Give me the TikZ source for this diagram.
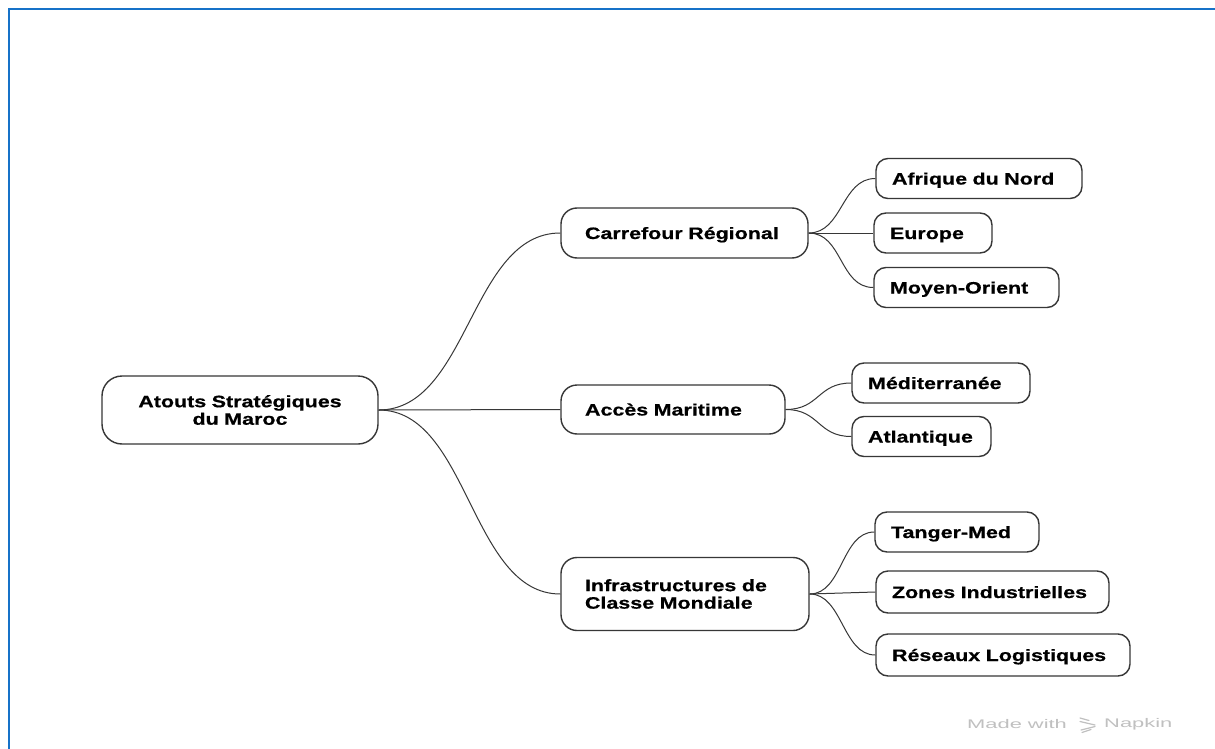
\documentclass[tikz,border=0pt]{standalone}
\usepackage{fontspec}
\newfontfamily\nodefont[FakeStretch=1.3, FakeBold=0.6]{Liberation Sans}
\newfontfamily\wmfont[FakeStretch=1.75]{Liberation Sans}
\definecolor{frameblue}{RGB}{22,114,200}
\definecolor{linegray}{RGB}{55,55,55}
\definecolor{wmgray}{RGB}{192,192,192}
\begin{document}
\begin{tikzpicture}[x=1pt,y=-1pt,
  box/.style={draw=linegray, line width=1.4pt, fill=white, text=black,
    font=\nodefont\bfseries\fontsize{16.5}{17.5}\selectfont, inner ysep=0pt},
  oneline/.style={text height=12pt, text depth=0pt},
  rootbox/.style={box, rounded corners=20pt, align=center},
  midbox/.style={box, rounded corners=16pt, align=left, inner xsep=24pt},
  leafbox/.style={box, oneline, rounded corners=12pt, align=left, inner xsep=16pt, minimum height=40pt},
  link/.style={draw=linegray, line width=1pt},
  wm/.style={font=\wmfont\fontsize{12.5}{14}\selectfont, text=wmgray, inner sep=0pt, anchor=west}]
\useasboundingbox (0,0) rectangle (1215,749);
\fill[white] (0,0) rectangle (1215,749);
\draw[frameblue, line width=2.4pt] (9,749) -- (9,9) -- (1215,9);

% root
\node[rootbox, minimum width=276pt, minimum height=68pt, text width=240pt] (root) at (240,410) {Atouts Stratégiques\\du Maroc};

% level 1
\node[midbox, oneline, minimum height=50pt, text width=199pt] (car) at (684.5,233) {Carrefour Régional};
\node[midbox, oneline, minimum height=49pt, text width=176pt] (acc) at (673,409.5) {Accès Maritime};
\node[midbox, minimum height=73pt, text width=200pt] (inf) at (685,594) {Infrastructures de\\Classe Mondiale};

% level 2
\node[leafbox, text width=174pt] (afr) at (979,178.5) {Afrique du Nord};
\node[leafbox, text width=86pt] (eur) at (933,233) {Europe};
\node[leafbox, text width=153pt] (moy) at (966.5,287.5) {Moyen-Orient};
\node[leafbox, text width=146pt] (med) at (941,383) {Méditerranée};
\node[leafbox, text width=107pt] (atl) at (921.5,436.5) {Atlantique};
\node[leafbox, text width=132pt] (tan) at (957,532) {Tanger-Med};
\node[leafbox, minimum height=42pt, text width=201pt] (zon) at (992.5,592) {Zones Industrielles};
\node[leafbox, minimum height=42pt, text width=222pt] (res) at (1003,655) {Réseaux Logistiques};

% connectors
\draw[link] (root.east) .. controls +(90,0) and +(-90,0) .. (car.west);
\draw[link] (root.east) -- (acc.west);
\draw[link] (root.east) .. controls +(90,0) and +(-90,0) .. (inf.west);

\draw[link] (car.east) .. controls +(34,0) and +(-34,0) .. (afr.west);
\draw[link] (car.east) -- (eur.west);
\draw[link] (car.east) .. controls +(34,0) and +(-34,0) .. (moy.west);

\draw[link] (acc.east) .. controls +(34,0) and +(-34,0) .. (med.west);
\draw[link] (acc.east) .. controls +(34,0) and +(-34,0) .. (atl.west);

\draw[link] (inf.east) .. controls +(33,0) and +(-33,0) .. (tan.west);
\draw[link] (inf.east) -- (zon.west);
\draw[link] (inf.east) .. controls +(33,0) and +(-33,0) .. (res.west);

% watermark
\node[wm] (made) at (967,724) {Made with};
\node[wm] (napkin) at (1104,724) {Napkin};
\begin{scope}[draw=wmgray, line width=1.2pt, line cap=round]
  \draw (1080,718) -- (1089,720.5);
  \draw (1080,721.5) -- (1095,725);
  \draw (1095,726.5) -- (1081,730);
  \draw (1091,729.5) -- (1082,732.5);
\end{scope}
\end{tikzpicture}
\end{document}
